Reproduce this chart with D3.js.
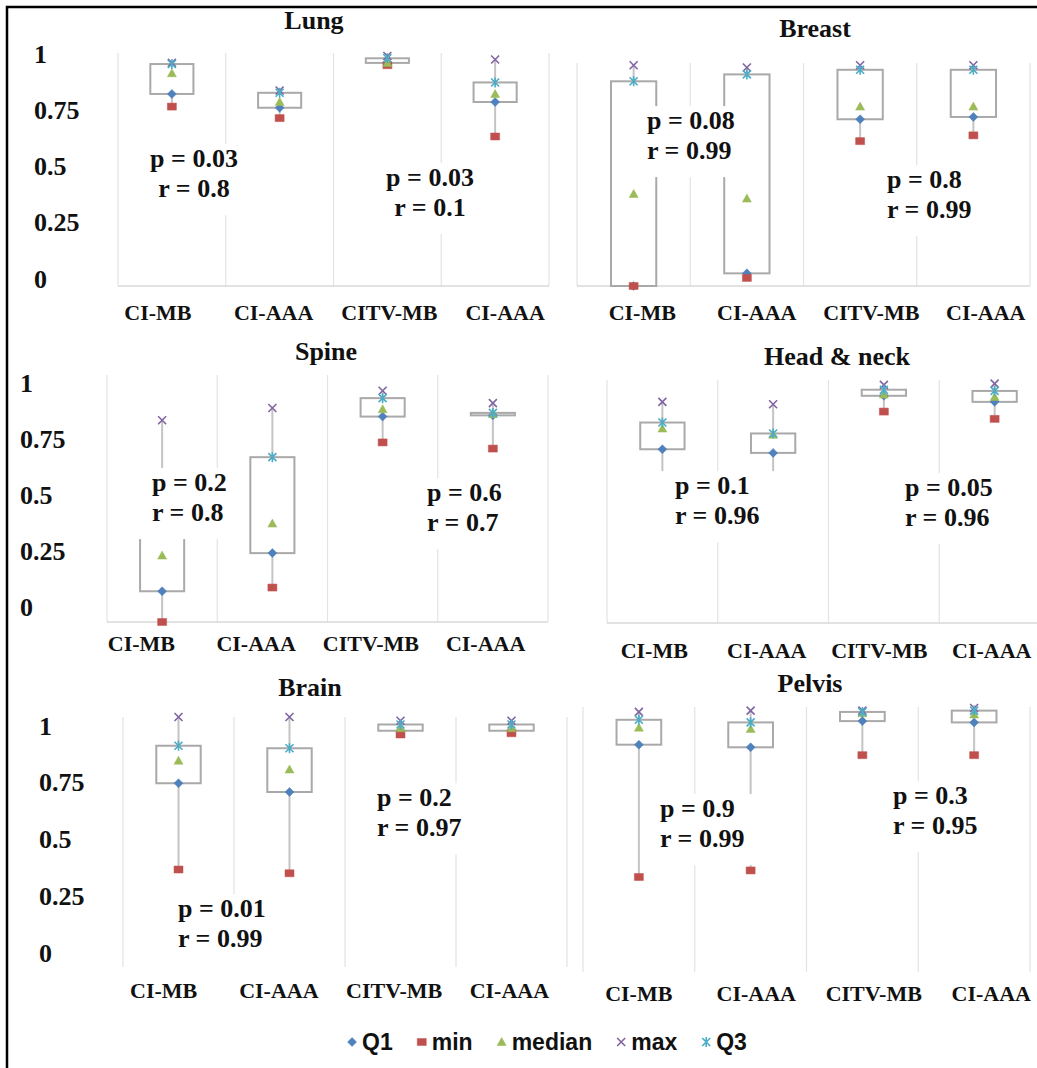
<!DOCTYPE html>
<html>
<head>
<meta charset="utf-8">
<script src="https://cdn.jsdelivr.net/npm/d3@7"></script>
<style>
  body { margin: 0; background: #fff; }
  svg text { font-family: "Liberation Serif", "Times New Roman", serif; font-weight: bold; fill: #111; }
  svg .legend text { font-family: "Liberation Sans", Arial, sans-serif; }
</style>
</head>
<body>
<svg id="chart" width="1037" height="1068"></svg>
<script>
// panels and categories
const sites = ["Lung", "Breast", "Spine", "Head & neck", "Brain", "Pelvis"];
const categories = ["CI-MB", "CI-AAA", "CITV-MB", "CI-AAA"];
const yTicks = [0, 0.25, 0.5, 0.75, 1];

// one row per site, one value per category
const minVals = [
  [0.78, 0.73, 0.96, 0.65],
  [0.0, 0.035, 0.63, 0.655],
  [0.0, 0.14, 0.73, 0.705],
  [0.36, 0.5, 0.87, 0.84],
  [0.39, 0.375, 0.93, 0.935],
  [0.355, 0.38, 0.82, 0.82]
];
const q1Vals = [
  [0.835, 0.775, 0.97, 0.8],
  [0.0, 0.055, 0.725, 0.735],
  [0.125, 0.28, 0.835, 0.84],
  [0.715, 0.7, 0.935, 0.91],
  [0.735, 0.7, 0.945, 0.945],
  [0.86, 0.85, 0.95, 0.945]
];
const medianVals = [
  [0.925, 0.8, 0.97, 0.835],
  [0.4, 0.38, 0.78, 0.78],
  [0.27, 0.4, 0.865, 0.845],
  [0.8, 0.775, 0.94, 0.93],
  [0.825, 0.79, 0.955, 0.955],
  [0.925, 0.92, 0.98, 0.975]
];
const q3Vals = [
  [0.965, 0.84, 0.99, 0.885],
  [0.89, 0.92, 0.94, 0.94],
  [0.45, 0.67, 0.91, 0.85],
  [0.825, 0.78, 0.96, 0.955],
  [0.885, 0.875, 0.97, 0.97],
  [0.955, 0.945, 0.985, 0.99]
];
const maxVals = [
  [0.97, 0.85, 1.0, 0.985],
  [0.96, 0.95, 0.96, 0.96],
  [0.82, 0.87, 0.94, 0.89],
  [0.91, 0.9, 0.98, 0.985],
  [1.0, 1.0, 0.985, 0.985],
  [0.985, 0.99, 0.99, 1.0]
];

// two comparisons per site
const pValues = [["0.03", "0.03"], ["0.08", "0.8"], ["0.2", "0.6"], ["0.1", "0.05"], ["0.01", "0.2"], ["0.9", "0.3"]];
const rValues = [["0.8", "0.1"], ["0.99", "0.99"], ["0.8", "0.7"], ["0.96", "0.96"], ["0.99", "0.97"], ["0.99", "0.95"]];

const seriesNames = ["Q1", "min", "median", "max", "Q3"];
const seriesColors = ["#4F81BD", "#C0504D", "#9BBB59", "#8064A2", "#4BACC6"];

// page layout of each panel
const layout = [
  { x0: 118, x1: 549, gridTop: 53, top: 56, bottom: 286, baseline: true, title: [314, 20], catY: 312, lab: [100, 563],
    yAxis: { x: 34, range: [278, 53] },
    notes: [{ x: 194, y: 158, anchor: "middle" }, { x: 430, y: 177, anchor: "middle" }] },
  { x0: 577, x1: 1030, gridTop: 63, top: 56, bottom: 286, baseline: true, title: [815, 28], catY: 312, lab: [585, 1043],
    notes: [{ x: 647, y: 120 }, { x: 887, y: 179 }] },
  { x0: 107, x1: 548, gridTop: 375, top: 376, bottom: 622, baseline: true, title: [326, 351], catY: 643, lab: [84, 543],
    yAxis: { x: 20, range: [606, 382] },
    notes: [{ x: 152, y: 482 }, { x: 427, y: 492 }] },
  { x0: 607, x1: 1050, gridTop: 380, top: 380, bottom: 623, baseline: true, title: [837, 356], catY: 650, lab: [598, 1048],
    notes: [{ x: 675, y: 485, padR: 24 }, { x: 905, y: 487 }] },
  { x0: 123, x1: 567, gridTop: 717, gridBottom: 967, top: 717, bottom: 967, baseline: false, title: [310, 687], catY: 990, lab: [106, 567],
    yAxis: { x: 39, range: [952, 725] },
    notes: [{ x: 178, y: 908, padB: 24 }, { x: 377, y: 797 }] },
  { x0: 583, x1: 1030, gridTop: 707, gridBottom: 972, top: 708, bottom: 970, baseline: false, title: [810, 683], catY: 993, lab: [580, 1050],
    notes: [{ x: 660, y: 808 }, { x: 893, y: 795 }] }
];

// marker shapes, Excel style
const markers = {
  Q1: { d: "M0,-4.5L4.5,0L0,4.5L-4.5,0Z", filled: true },
  min: { d: "M-4.5,-3.5H4.5V3.5H-4.5Z", filled: true },
  median: { d: "M0,-4.5L4.5,3.5L-4.5,3.5Z", filled: true },
  max: { d: "M-4,-4L4,4M-4,4L4,-4", filled: false },
  Q3: { d: "M-4,-4L4,4M-4,4L4,-4M0,-5V5", filled: false }
};

const svg = d3.select("#chart");
svg.append("rect").attr("width", 1037).attr("height", 1068).attr("fill", "#fff");

layout.forEach((L, i) => {
  const g = svg.append("g");
  const x = d3.scaleBand().domain(d3.range(categories.length)).range([L.x0, L.x1]);
  const y = d3.scaleLinear().domain([0, 1]).range([L.bottom, L.top]);
  const cx = k => x(k) + x.bandwidth() / 2;
  const bw = x.bandwidth() * 0.4;

  // vertical category gridlines
  const edges = d3.range(categories.length + 1).map(k => L.x0 + k * x.step());
  g.selectAll(".grid").data(edges).join("line")
    .attr("x1", d => d).attr("x2", d => d)
    .attr("y1", L.gridTop).attr("y2", L.gridBottom ?? L.bottom)
    .attr("stroke", "#e3e3e3").attr("stroke-width", 1.2);
  if (L.baseline) {
    g.append("line").attr("x1", L.x0).attr("x2", L.x1)
      .attr("y1", y(0)).attr("y2", y(0))
      .attr("stroke", "#d9d9d9").attr("stroke-width", 1.5);
  }

  const rows = categories.map((c, k) => ({
    k, min: minVals[i][k], Q1: q1Vals[i][k], median: medianVals[i][k], Q3: q3Vals[i][k], max: maxVals[i][k]
  }));

  // whiskers
  g.selectAll(".whisker").data(rows).join("path")
    .attr("d", d => `M${cx(d.k)},${y(d.max)}V${y(d.Q3)}M${cx(d.k)},${y(d.Q1)}V${y(d.min)}`)
    .attr("stroke", "#c4c4c4").attr("stroke-width", 2).attr("fill", "none");

  // boxes
  g.selectAll(".box").data(rows).join("rect")
    .attr("x", d => cx(d.k) - bw / 2)
    .attr("y", d => y(d.Q3))
    .attr("width", bw)
    .attr("height", d => Math.max(1, y(d.Q1) - y(d.Q3)))
    .attr("fill", "none").attr("stroke", "#a9a9a9").attr("stroke-width", 2);

  // markers, in series order
  seriesNames.forEach((s, si) => {
    const m = markers[s];
    g.selectAll(".m-" + s).data(rows).join("path")
      .attr("transform", d => `translate(${cx(d.k)},${y(d[s])})`)
      .attr("d", m.d)
      .attr("fill", m.filled ? seriesColors[si] : "none")
      .attr("stroke", seriesColors[si])
      .attr("stroke-width", m.filled ? 0.5 : 1.6);
  });

  // title
  svg.append("text").attr("x", L.title[0]).attr("y", L.title[1]).attr("dy", "0.35em")
    .attr("text-anchor", "middle").style("font-size", "26px").text(sites[i]);

  // category labels
  const lx = d3.scaleBand().domain(d3.range(categories.length)).range(L.lab);
  const xa = svg.append("g").attr("transform", `translate(0,${L.catY})`)
    .call(d3.axisBottom(lx).tickSize(0).tickFormat(k => categories[k]));
  xa.select(".domain").remove();
  xa.selectAll("text").attr("y", 0).attr("dy", "0.35em").style("font-size", "22px");

  // value axis labels (left panels only)
  if (L.yAxis) {
    const ly = d3.scaleLinear().domain([0, 1]).range(L.yAxis.range);
    const ya = svg.append("g").attr("transform", `translate(${L.yAxis.x},0)`)
      .call(d3.axisLeft(ly).tickValues(yTicks).tickSize(0).tickFormat(d3.format("")));
    ya.select(".domain").remove();
    ya.selectAll("text").attr("x", 0).attr("dy", "0.35em")
      .attr("text-anchor", "start").style("font-size", "26px");
  }

  // p / r text boxes (white, covering the plot beneath)
  L.notes.forEach((n, j) => {
    const ng = svg.append("g");
    const bg = ng.append("rect").attr("fill", "#fff");
    const tg = ng.append("g").attr("text-anchor", n.anchor || "start");
    tg.append("text").attr("x", n.x).attr("y", n.y).attr("dy", "0.35em")
      .style("font-size", "26px").text(`p = ${pValues[i][j]}`);
    tg.append("text").attr("x", n.x).attr("y", n.y + 30).attr("dy", "0.35em")
      .style("font-size", "26px").text(`r = ${rValues[i][j]}`);
    const b = tg.node().getBBox();
    const padL = n.padL ?? 19, padR = n.padR ?? 19, padB = n.padB ?? 12;
    bg.attr("x", b.x - padL).attr("y", b.y)
      .attr("width", b.width + padL + padR).attr("height", b.height + padB);
  });
});

// legend
const legend = svg.append("g").attr("class", "legend");
let cursor = 0;
seriesNames.forEach((s, si) => {
  const m = markers[s];
  legend.append("path").attr("transform", `translate(${cursor + 7},0)`)
    .attr("d", m.d)
    .attr("fill", m.filled ? seriesColors[si] : "none")
    .attr("stroke", seriesColors[si])
    .attr("stroke-width", m.filled ? 0.5 : 1.6);
  const t = legend.append("text").attr("x", cursor + 17).attr("y", 0).attr("dy", "0.35em")
    .style("font-size", "23px").text(s);
  cursor += 17 + t.node().getComputedTextLength() + 22;
});
const lw = cursor - 22;
legend.attr("transform", `translate(${546 - lw / 2},1042)`);

// outer frame (top and left edges)
svg.append("path").attr("d", "M7,1068V7H1037")
  .attr("fill", "none").attr("stroke", "#000").attr("stroke-width", 2.5);
</script>
</body>
</html>
